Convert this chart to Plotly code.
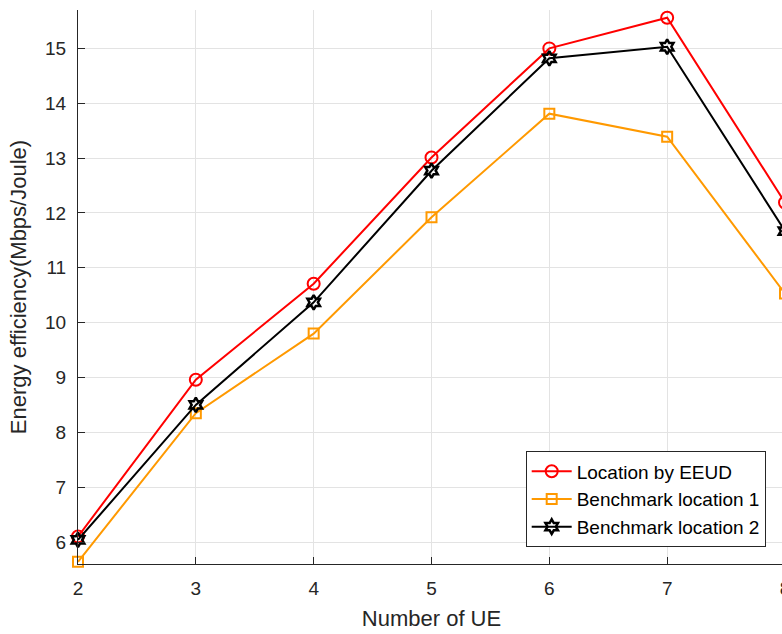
import plotly.graph_objects as go

num_ue = [2, 3, 4, 5, 6, 7, 8]
eeud = [6.10, 8.96, 10.71, 13.01, 15.00, 15.56, 12.19]
bench1 = [5.64, 8.35, 9.80, 11.92, 13.81, 13.39, 10.53]
bench2 = [6.04, 8.50, 10.37, 12.77, 14.82, 15.03, 11.67]

names = ["Location by EEUD", "Benchmark location 1", "Benchmark location 2"]
x_ticks = [2, 3, 4, 5, 6, 7, 8]
y_ticks = [6, 7, 8, 9, 10, 11, 12, 13, 14, 15]

FONT = "Liberation Sans, Arial, Helvetica, sans-serif"
AX = "#262626"
GRID = "#e3e3e3"

fig = go.Figure()
fig.add_trace(go.Scatter(
    x=num_ue, y=eeud, name=names[0], mode="lines+markers",
    line=dict(color="#ff0000", width=2),
    marker=dict(symbol="circle-open", size=12, color="#ff0000", line=dict(width=2)),
    cliponaxis=False,
))
fig.add_trace(go.Scatter(
    x=num_ue, y=bench1, name=names[1], mode="lines+markers",
    line=dict(color="#ff9900", width=2),
    marker=dict(symbol="square-open", size=10, color="#ff9900", line=dict(width=2)),
    cliponaxis=False,
))
fig.add_trace(go.Scatter(
    x=num_ue, y=bench2, name=names[2], mode="lines+markers",
    line=dict(color="#000000", width=2),
    marker=dict(symbol="hexagram-open", size=11, color="#000000", line=dict(width=2.5)),
    cliponaxis=False,
))

fig.update_layout(
    width=800, height=634,
    margin=dict(l=78, r=15, t=10, b=70, autoexpand=False),
    paper_bgcolor="white", plot_bgcolor="white",
    font=dict(family=FONT, color=AX, size=19),
    showlegend=True,
    legend=dict(
        x=0.9727, y=0.030, xanchor="right", yanchor="bottom",
        bgcolor="white", bordercolor=AX, borderwidth=1,
        font=dict(size=19, color="#000000"),
        tracegroupgap=0, itemwidth=40,
    ),
)
fig.update_xaxes(
    range=[2, 8], tickvals=x_ticks, ticktext=[str(v) for v in x_ticks],
    showline=True, linecolor=AX, linewidth=1,
    ticks="inside", ticklen=7, tickcolor=AX, tickwidth=1,
    showgrid=True, gridcolor=GRID, gridwidth=1, zeroline=False,
    tickfont=dict(size=19, color=AX), ticklabelstandoff=7,
    title=dict(text="Number of UE", font=dict(size=22, color=AX), standoff=12),
    automargin=False,
)
fig.update_yaxes(
    range=[5.6, 15.7], tickvals=y_ticks, ticktext=[str(v) for v in y_ticks],
    showline=True, linecolor=AX, linewidth=1,
    ticks="inside", ticklen=7, tickcolor=AX, tickwidth=1,
    showgrid=True, gridcolor=GRID, gridwidth=1, zeroline=False,
    tickfont=dict(size=19, color=AX), ticklabelstandoff=7,
    title=dict(text="Energy efficiency(Mbps/Joule)", font=dict(size=22, color=AX), standoff=12),
    automargin=False,
)

fig.write_html("out.html", post_script="document.body.style.overflow='hidden';document.documentElement.style.overflow='hidden';")
